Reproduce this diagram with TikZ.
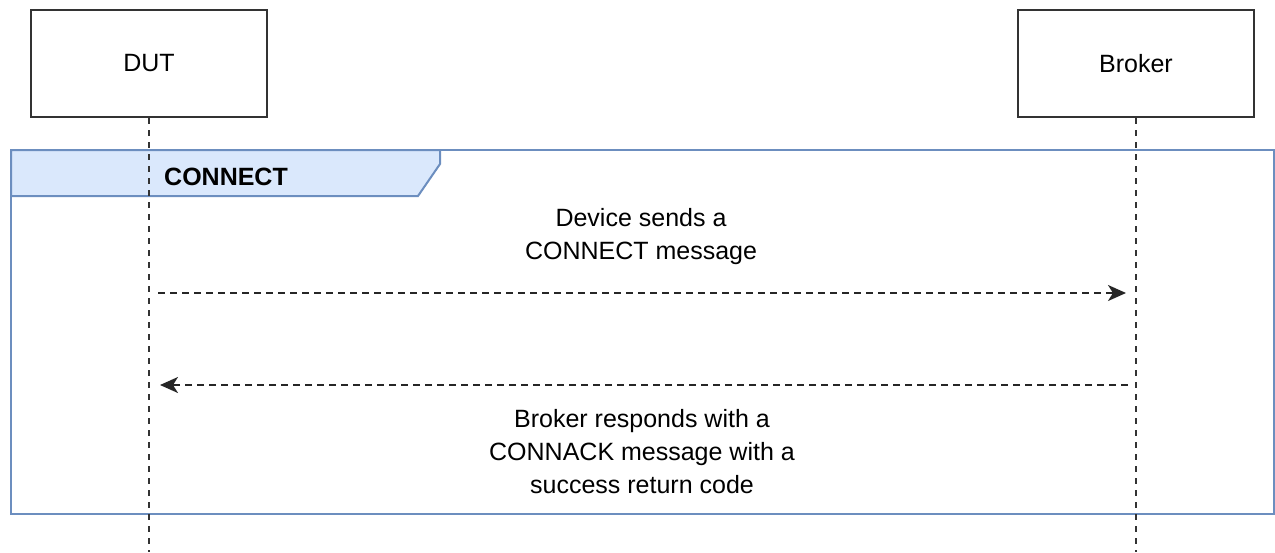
\documentclass[tikz,border=0pt]{standalone}
\usepackage{fontspec}
\setmainfont{Liberation Sans}
\usetikzlibrary{arrows.meta}
\definecolor{frameblue}{HTML}{6C8EBF}
\definecolor{fillblue}{HTML}{DAE8FC}
\definecolor{boxgray}{HTML}{333333}
\begin{document}
\begin{tikzpicture}[x=1pt,y=-1pt,
  actor/.style={draw=boxgray,line width=2.2pt,minimum width=236pt,minimum height=107pt,inner sep=0pt,font=\fontsize{25}{30}\selectfont},
  lifeline/.style={draw=black!80,line width=2pt,dash pattern=on 6pt off 6pt},
  msg/.style={draw=black!85,line width=2pt,dash pattern=on 7pt off 5pt,-{Stealth[length=18pt,width=16pt,inset=5pt]}},
  lbl/.style={align=center,font=\fontsize{25}{33}\selectfont,inner sep=0pt}]
\useasboundingbox (0,0) rectangle (1275,552);
% frame
\draw[frameblue,line width=2pt] (11,150) rectangle (1274,514);
\draw[frameblue,line width=2pt,fill=fillblue] (11,150) -- (440,150) -- (440,164) -- (418,196) -- (11,196) -- cycle;
\node[anchor=west,font=\fontsize{25}{30}\selectfont\bfseries,inner sep=0pt] (frametitle) at (164,177) {CONNECT};
% actors
\node[actor] (dut) at (149,63.5) {DUT};
\node[actor] (broker) at (1136,63.5) {Broker};
\coordinate (dutend) at (149,552);
\coordinate (brokerend) at (1136,552);
\draw[lifeline] (dut.south) -- (dutend);
\draw[lifeline] (broker.south) -- (brokerend);
% messages
\coordinate (m1s) at (158,293);
\coordinate (m1e) at (1126,293);
\coordinate (m2s) at (1128,385);
\coordinate (m2e) at (160,385);
\draw[msg] (m1s) -- (m1e);
\draw[msg] (m2s) -- (m2e);
\node[lbl] (l1) at (641,237) {Device sends a\\CONNECT message};
\node[lbl] (l2) at (642,452) {Broker responds with a\\CONNACK message with a\\success return code};
\end{tikzpicture}
\end{document}
